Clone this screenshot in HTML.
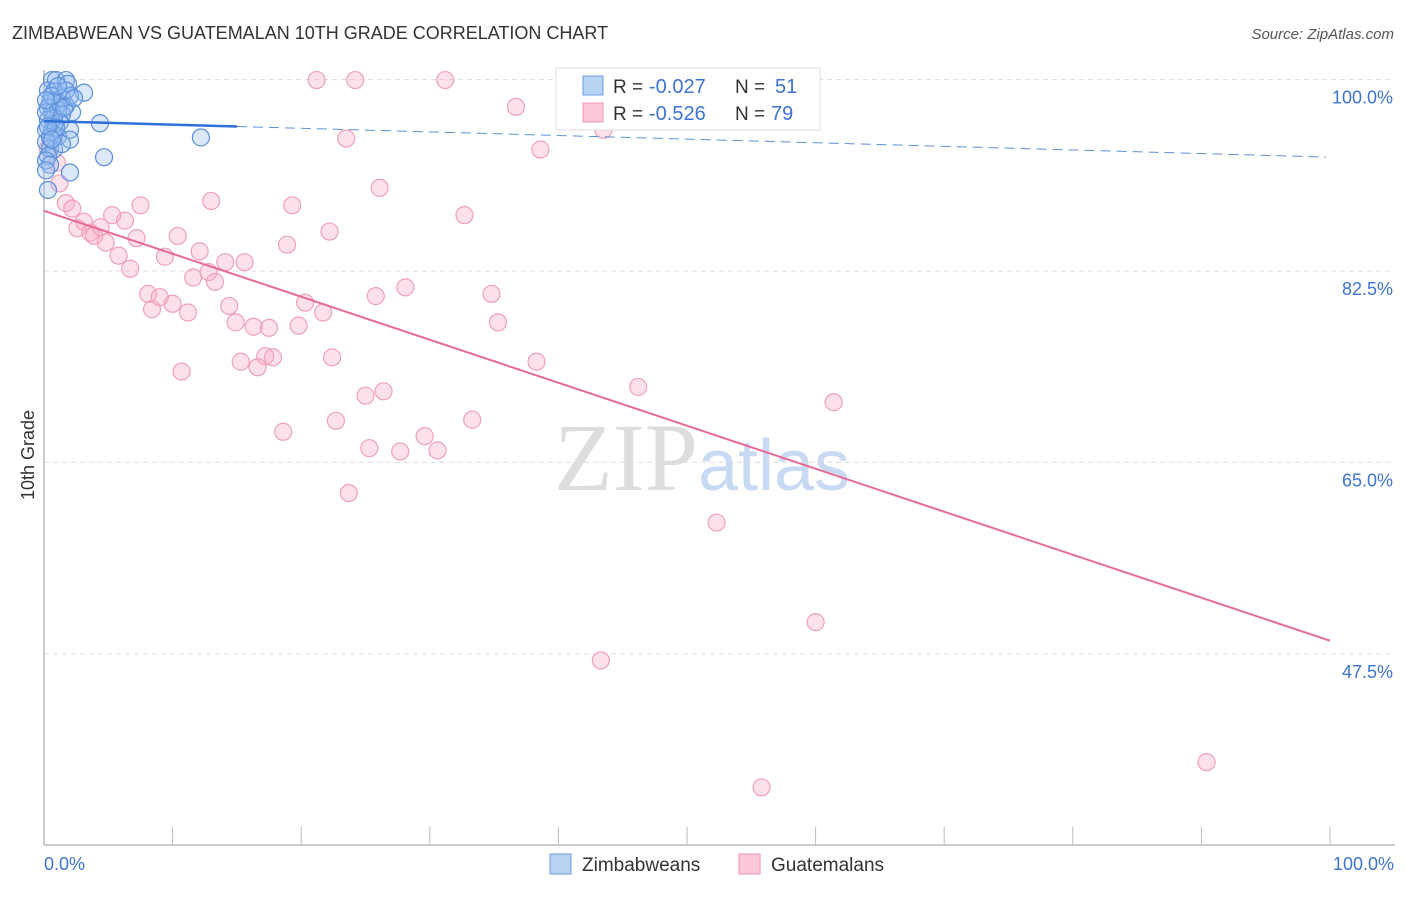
<!DOCTYPE html>
<html><head><meta charset="utf-8"><style>
body{margin:0;background:#fff;font-family:"Liberation Sans",sans-serif}
</style></head><body>
<svg width="1406" height="892" xmlns="http://www.w3.org/2000/svg">
<text x="12" y="39" font-size="18" fill="#333">ZIMBABWEAN VS GUATEMALAN 10TH GRADE CORRELATION CHART</text>
<text x="1394" y="39" font-size="15" fill="#555" text-anchor="end" font-style="italic">Source: ZipAtlas.com</text>
<text x="702" y="490" font-size="96" fill="#ddd" text-anchor="middle" font-family="Liberation Serif">ZIP<tspan fill="#c8daf3" font-family="Liberation Sans" font-size="72">atlas</tspan></text>
<g id="grid"></g>
<g id="axes"></g>
<g id="pts"></g>
<g id="trend"></g>
<text transform="translate(34,455) rotate(-90)" font-size="18" fill="#333" text-anchor="middle">10th Grade</text>
<text x="44" y="870" font-size="18" fill="#3d74d4">0.0%</text>
<text x="1394" y="870" font-size="18" fill="#3d74d4" text-anchor="end">100.0%</text>
<g>
<rect x="556" y="68" width="264" height="62" fill="#fff" stroke="#ddd"/>
<rect x="583" y="76" width="20" height="19" fill="#b9d3f5" stroke="#6a9de0"/>
<rect x="583" y="103" width="20" height="19" fill="#fbc8d7" stroke="#ef93b0"/>
<text x="613" y="93" font-size="19" fill="#333">R =</text>
<text x="649" y="93" font-size="20" fill="#3d74d4">-0.027</text>
<text x="735" y="93" font-size="19" fill="#333">N =</text>
<text x="775" y="93" font-size="20" fill="#3d74d4">51</text>
<text x="613" y="120" font-size="19" fill="#333">R =</text>
<text x="649" y="120" font-size="20" fill="#3d74d4">-0.526</text>
<text x="735" y="120" font-size="19" fill="#333">N =</text>
<text x="771" y="120" font-size="20" fill="#3d74d4">79</text>
</g>
<g>
<rect x="550" y="854" width="21" height="20" fill="#b9d3f5" stroke="#6a9de0"/>
<text x="582" y="871" font-size="19" fill="#333">Zimbabweans</text>
<rect x="739" y="854" width="21" height="20" fill="#fbc8d7" stroke="#ef93b0"/>
<text x="771" y="871" font-size="19" fill="#333">Guatemalans</text>
</g>
</svg>
<script>
const yTicks=[100,82.5,65,47.5];
const yTickLabels=["100.0%","82.5%","65.0%","47.5%"];
const blueX=[0.62,0.93,1.71,1.87,0.31,0.78,3.11,2.02,0.93,0.47,1.24,1.71,2.18,0.31,0.62,1.09,1.4,0.31,0.78,1.24,4.35,2.02,0.16,0.62,1.09,2.02,0.16,0.47,0.78,0.31,4.67,0.16,0.47,2.02,0.16,0.31,12.2,1.4,0.78,1.56,0.16,0.93,0.47,1.4,0.31,0.62,1.71,2.33,1.09,0.16,0.62];
const blueY=[99.95,99.95,99.95,99.6,99.0,98.9,98.8,98.5,98.1,97.9,97.8,97.6,97.0,97.4,97.0,97.2,96.8,96.3,95.9,96.1,96.0,95.4,95.4,95.2,94.8,94.5,94.3,93.7,93.6,93.0,92.9,92.6,92.2,91.5,91.7,89.9,94.7,98.3,96.5,97.4,97.0,95.6,94.7,94.1,95.7,98.5,99.0,98.3,99.4,98.1,94.5];
const pinkX=[21.2,24.2,31.2,58.6,36.7,43.5,23.5,38.6,1.0,1.2,26.1,1.7,2.2,13.0,7.5,19.3,32.7,5.3,3.1,6.3,4.4,2.6,3.6,3.9,4.8,7.2,10.4,22.2,18.9,12.1,9.4,5.8,14.1,15.6,6.7,12.8,11.6,13.3,28.1,25.8,34.8,8.1,9.0,10.0,8.4,11.2,14.4,20.3,21.7,14.9,16.3,17.5,19.8,35.3,22.4,17.2,17.8,15.3,16.6,38.3,10.7,46.2,26.4,25.0,61.4,33.3,22.7,18.6,29.6,25.3,27.7,30.6,23.7,52.3,60.0,43.3,90.4,55.8,0.3];
const pinkY=[99.95,99.95,99.95,99.95,97.5,95.4,94.6,93.6,92.4,90.5,90.1,88.7,88.2,88.9,88.5,88.5,87.6,87.6,87.0,87.1,86.5,86.4,86.0,85.7,85.1,85.5,85.7,86.1,84.9,84.3,83.8,83.9,83.3,83.3,82.7,82.4,81.9,81.5,81.0,80.2,80.4,80.4,80.1,79.5,79.0,78.7,79.3,79.6,78.7,77.8,77.4,77.3,77.5,77.8,74.6,74.7,74.6,74.2,73.7,74.2,73.3,71.9,71.5,71.1,70.5,68.9,68.8,67.8,67.4,66.3,66.0,66.1,62.2,59.5,50.4,46.9,37.6,35.3,93.7];
const blueTrend=[96.2,92.9];
const pinkTrend=[88.0,48.7];
const NS='http://www.w3.org/2000/svg';
const sx=v=>44+v*12.86;
const sy=v=>79.5+(100-v)*10.94;
function mk(tag,attrs,parent){const e=document.createElementNS(NS,tag);for(const k in attrs)e.setAttribute(k,attrs[k]);parent.appendChild(e);return e;}
const grid=document.getElementById('grid');
yTicks.forEach((t,i)=>{
  const l=mk('line',{x1:44,x2:1395,y1:sy(t),y2:sy(t),stroke:'#ddd','stroke-dasharray':'5,4'},grid);
  
  
  const tx=mk('text',{x:1393,y:sy(t)+24,'font-size':18,fill:'#3d74d4','text-anchor':'end'},grid);
  tx.textContent=yTickLabels[i];
  
  
});
const ax=document.getElementById('axes');
const ya=mk('line',{x1:44,x2:44,y1:70,y2:845,stroke:'#bbb','stroke-width':1.5},ax);


const xa=mk('line',{x1:44,x2:1395,y1:845,y2:845,stroke:'#bbb','stroke-width':1.5},ax);


for(let i=1;i<=10;i++){const t=mk('line',{x1:sx(i*10),x2:sx(i*10),y1:827,y2:845,stroke:'#bbb'},ax);
  
  }
const pts=document.getElementById('pts');
pinkX.forEach((x,i)=>{const c=mk('circle',{cx:sx(x),cy:sy(pinkY[i]),r:8.5,fill:'rgba(248,170,195,0.35)',stroke:'#f0a0ba','stroke-width':1.2},pts);
  
  });
blueX.forEach((x,i)=>{const c=mk('circle',{cx:sx(x),cy:sy(blueY[i]),r:8.5,fill:'rgba(150,190,240,0.35)',stroke:'#5b8fdc','stroke-width':1.2},pts);
  
  });
const tr=document.getElementById('trend');
const bAt=x=>blueTrend[0]+(blueTrend[1]-blueTrend[0])*x/100;
const pAt=x=>pinkTrend[0]+(pinkTrend[1]-pinkTrend[0])*x/100;
const b1=mk('line',{x1:sx(0),y1:sy(bAt(0)),x2:sx(15),y2:sy(bAt(15)),stroke:'#2e6fd8','stroke-width':2.5},tr);


const b2=mk('line',{x1:sx(15),y1:sy(bAt(15)),x2:sx(99.7),y2:sy(bAt(99.7)),stroke:'#5b8fdc','stroke-width':1,'stroke-dasharray':'10,6'},tr);


const p1=mk('line',{x1:sx(0),y1:sy(pAt(0)),x2:sx(100),y2:sy(pAt(100)),stroke:'#e86a98','stroke-width':2},tr);


</script>
</body></html>
